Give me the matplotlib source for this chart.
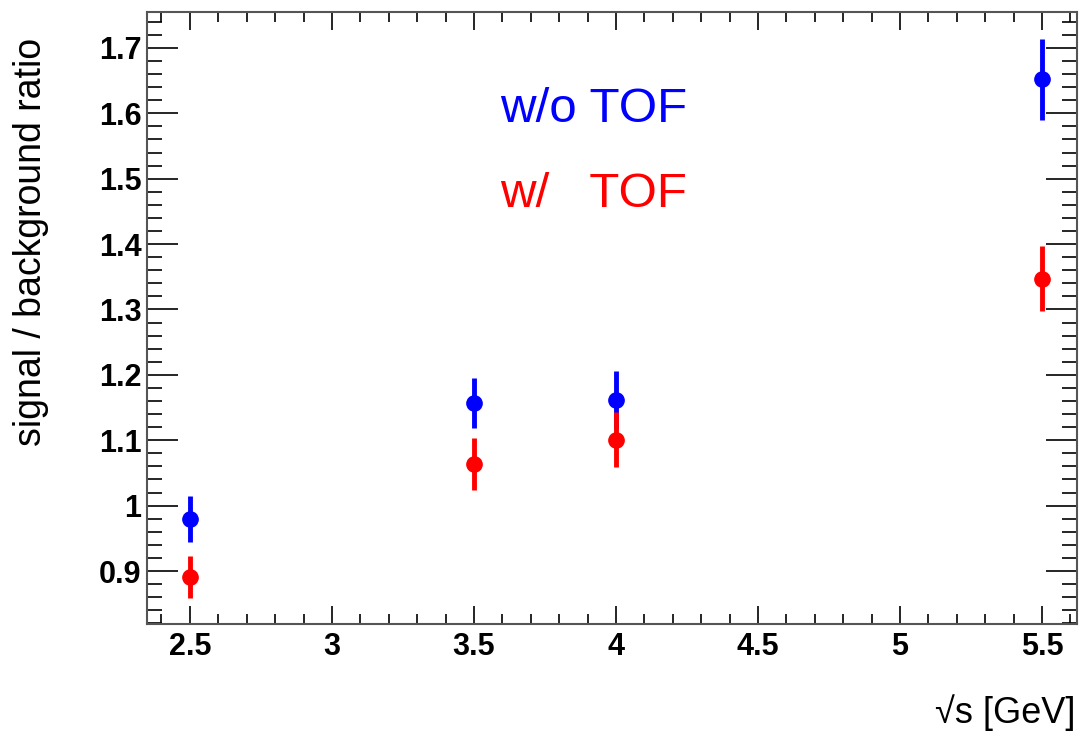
import numpy as np
import matplotlib.pyplot as plt
from matplotlib.ticker import MultipleLocator, FixedLocator

plt.rcParams['font.family'] = ['Liberation Sans', 'DejaVu Sans']

# Data
sqrt_s = [2.5, 3.5, 4.0, 5.5]
ratio_wo_tof = [0.980, 1.157, 1.162, 1.652]
err_wo_tof = [0.035, 0.038, 0.044, 0.062]
ratio_w_tof = [0.891, 1.064, 1.101, 1.347]
err_w_tof = [0.032, 0.040, 0.042, 0.050]

xticks = [2.5, 3, 3.5, 4, 4.5, 5, 5.5]
xticklabels = ['2.5', '3', '3.5', '4', '4.5', '5', '5.5']
yticks = [0.9, 1.0, 1.1, 1.2, 1.3, 1.4, 1.5, 1.6, 1.7]
yticklabels = ['0.9', '1', '1.1', '1.2', '1.3', '1.4', '1.5', '1.6', '1.7']

fig = plt.figure(figsize=(10.79, 7.32), dpi=100)
ax = fig.add_axes([147 / 1079, 1 - 624 / 732, 930 / 1079, 612 / 732])

ax.errorbar(sqrt_s, ratio_wo_tof, yerr=err_wo_tof, fmt='o', color='#0000ff',
            ms=11, elinewidth=3.5, capsize=0, zorder=3)
ax.errorbar(sqrt_s, ratio_w_tof, yerr=err_w_tof, fmt='o', color='#ff0000',
            ms=11, elinewidth=3.5, capsize=0, zorder=3)

ax.set_xlim(2.349, 5.623)
ax.set_ylim(0.819, 1.755)

ax.xaxis.set_major_locator(FixedLocator(xticks))
ax.xaxis.set_minor_locator(MultipleLocator(0.1))
ax.yaxis.set_major_locator(FixedLocator(yticks))
ax.yaxis.set_minor_locator(MultipleLocator(0.02))
ax.set_xticklabels(xticklabels, fontsize=22, fontweight='bold')
ax.set_yticklabels(yticklabels, fontsize=22, fontweight='bold')

ax.tick_params(which='both', direction='in', top=True, right=True, color='black', width=1.2)
ax.tick_params(axis='x', which='major', length=13, pad=6)
ax.tick_params(axis='x', which='minor', length=7)
ax.tick_params(axis='y', which='major', length=22, pad=4)
ax.tick_params(axis='y', which='minor', length=11)

for sp in ax.spines.values():
    sp.set_color('#555555')
    sp.set_linewidth(1.5)

ax.set_xlabel('\u221as [GeV]', fontsize=26)
ax.xaxis.set_label_coords(0.998, -0.162)
ax.xaxis.label.set_horizontalalignment('right')
ax.xaxis.label.set_verticalalignment('baseline')
ax.set_ylabel('signal / background ratio', fontsize=27)
ax.yaxis.set_label_coords(-0.1247, 0.624)
ax.yaxis.label.set_verticalalignment('center')
ax.yaxis.label.set_horizontalalignment('center')

ax.text(0.3796, 0.820, 'w/o TOF', color='#0000ff', fontsize=35.5, va='baseline',
        transform=ax.transAxes)
ax.text(0.3796, 0.681, 'w/   TOF', color='#ff0000', fontsize=35.5, va='baseline',
        transform=ax.transAxes)

fig.savefig('out.png', dpi=100)
